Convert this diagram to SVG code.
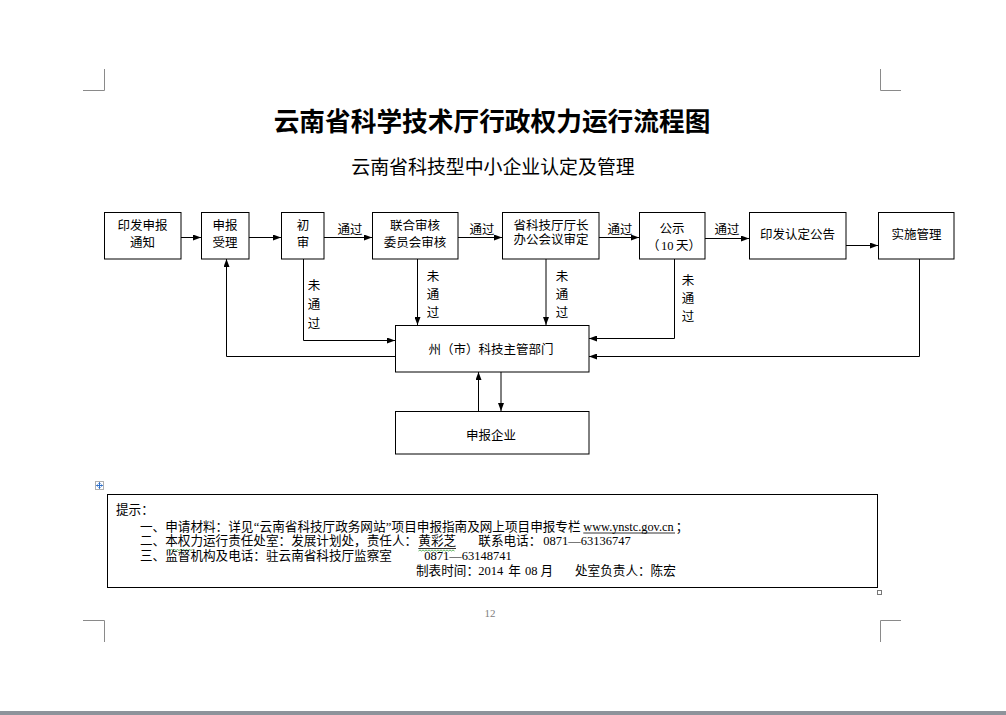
<svg xmlns="http://www.w3.org/2000/svg" width="1006" height="715" viewBox="0 0 1006 715">
<defs>
<style>
.cj{font-family:"Noto Sans CJK SC","Liberation Sans",sans-serif;fill:#000;}
.bx{fill:#fff;stroke:#000;stroke-width:1;}
.t{font-size:12.5px;text-anchor:middle;}
.n{font-size:12.6px;}
.sf{font-family:"Liberation Serif","Noto Sans CJK SC",serif;fill:#000;}
.cn{fill:none;stroke:#000;stroke-width:1;}
.crn{fill:none;stroke:#8a8a8a;stroke-width:1;}
</style>
<marker id="ah" viewBox="0 0 8 6" refX="8" refY="3" markerWidth="8" markerHeight="6" markerUnits="userSpaceOnUse" orient="auto">
<path d="M0,0 L8,3 L0,6 Z" fill="#000"/>
</marker>
</defs>
<rect x="0" y="0" width="1006" height="715" fill="#fff"/>
<rect x="0" y="711" width="1006" height="4" fill="#8e939b"/>
<g id="corners">
<path class="crn" d="M104.5,69 V90.5 H83"/>
<path class="crn" d="M880.5,69 V90.5 H901"/>
<path class="crn" d="M83,620.5 H104.5 V642"/>
<path class="crn" d="M901,620.5 H880.5 V642"/>
</g>
<g id="title">
<text class="cj" x="492" y="131" font-size="25.7" font-weight="bold" text-anchor="middle">云南省科学技术厅行政权力运行流程图</text>
<text class="cj" x="493" y="174" font-size="18.9" text-anchor="middle">云南省科技型中小企业认定及管理</text>
</g>
<g id="connectors">
<path class="cn" d="M181,237.5 H201" marker-end="url(#ah)"/>
<path class="cn" d="M249,237.5 H281" marker-end="url(#ah)"/>
<path class="cn" d="M324,237.5 H372" marker-end="url(#ah)"/>
<path class="cn" d="M458,237.5 H502" marker-end="url(#ah)"/>
<path class="cn" d="M599,237.5 H639" marker-end="url(#ah)"/>
<path class="cn" d="M705,238.5 H749" marker-end="url(#ah)"/>
<path class="cn" d="M846,245.5 H878" marker-end="url(#ah)"/>
<path class="cn" d="M303.5,259 V340.5 H395" marker-end="url(#ah)"/>
<path class="cn" d="M395,356.5 H226.5 V259" marker-end="url(#ah)"/>
<path class="cn" d="M417.5,259 V325" marker-end="url(#ah)"/>
<path class="cn" d="M546,259 V325" marker-end="url(#ah)"/>
<path class="cn" d="M674.5,259 V338.5 H589" marker-end="url(#ah)"/>
<path class="cn" d="M919.5,259 V356.5 H589" marker-end="url(#ah)"/>
<path class="cn" d="M478.5,411 V372" marker-end="url(#ah)"/>
<path class="cn" d="M501,372 V411" marker-end="url(#ah)"/>
<g class="cj t">
<text x="350" y="234">通过</text>
<text x="482" y="234">通过</text>
<text x="620" y="234">通过</text>
<text x="727" y="234">通过</text>
<text x="314" y="289.7">未</text><text x="314" y="309.3">通</text><text x="314" y="327.7">过</text>
<text x="433" y="280.7">未</text><text x="433" y="299">通</text><text x="433" y="317.4">过</text>
<text x="562" y="280.7">未</text><text x="562" y="298.8">通</text><text x="562" y="317.2">过</text>
<text x="688" y="284.7">未</text><text x="688" y="303">通</text><text x="688" y="321.4">过</text>
</g>
</g>
<g id="n1"><rect class="bx" x="104.5" y="212.5" width="76.5" height="46.5"/><text class="cj t" x="142.5" y="229.7">印发申报</text><text class="cj t" x="142.5" y="247.4">通知</text></g>
<g id="n2"><rect class="bx" x="201.5" y="212.5" width="47.5" height="46.5"/><text class="cj t" x="225" y="229.7">申报</text><text class="cj t" x="225" y="247.4">受理</text></g>
<g id="n3"><rect class="bx" x="281.5" y="212.5" width="42.5" height="46.5"/><text class="cj t" x="303" y="229.7">初</text><text class="cj t" x="303" y="247.4">审</text></g>
<g id="n4"><rect class="bx" x="372.5" y="212.5" width="85.5" height="46.5"/><text class="cj t" x="415" y="229.7">联合审核</text><text class="cj t" x="415" y="247.4">委员会审核</text></g>
<g id="n5"><rect class="bx" x="502.5" y="212.5" width="96.5" height="46.5"/><text class="cj t" x="551" y="229.7">省科技厅厅长</text><text class="cj t" x="551" y="243.9">办公会议审定</text></g>
<g id="n6"><rect class="bx" x="639.5" y="212.5" width="65.5" height="46.5"/><text class="cj t" x="672" y="232.7">公示</text>
<text class="cj" x="647" y="250.4" font-size="12.5">（</text>
<text class="sf" x="661" y="250.4" font-size="12.5">10</text>
<text class="cj" x="676" y="250.4" font-size="12.5">天）</text></g>
<g id="n7"><rect class="bx" x="749.5" y="212.5" width="96.5" height="46.5"/><text class="cj t" x="797.5" y="238.7">印发认定公告</text></g>
<g id="n8"><rect class="bx" x="878.5" y="212.5" width="75.5" height="46.5"/><text class="cj t" x="916.5" y="238.7">实施管理</text></g>
<g id="n9"><rect class="bx" x="395.5" y="325.5" width="193.5" height="46.5"/><text class="cj t" x="491" y="353.7">州（市）科技主管部门</text></g>
<g id="n10"><rect class="bx" x="395.5" y="411.5" width="193.5" height="42.5"/><text class="cj t" x="491" y="439.7">申报企业</text></g>
<g id="notes">
<rect x="95.5" y="481.5" width="8" height="8" fill="#fff" stroke="#b0b0b0" stroke-width="1"/>
<path d="M99.5,482.5 V488.5 M96.5,485.5 H102.5 M98.5,483.5 L99.5,482.5 L100.5,483.5 M98.5,487.5 L99.5,488.5 L100.5,487.5 M97.5,484.5 L96.5,485.5 L97.5,486.5 M101.5,484.5 L102.5,485.5 L101.5,486.5" fill="none" stroke="#2f6fc8" stroke-width="1"/>
<rect x="107.5" y="494.5" width="770" height="93" fill="none" stroke="#000" stroke-width="1"/>
<rect x="877.5" y="590.5" width="4" height="4" fill="#fff" stroke="#777" stroke-width="1"/>
<text class="cj n" x="116" y="514.4">提示：</text>
<text class="cj n" x="140" y="530.8">一、申请材料：详见</text>
<text class="sf" x="253.8" y="530.8" font-size="12.6">“</text>
<text class="cj n" x="259.6" y="530.8">云南省科技厅政务网站</text>
<text class="sf" x="385.8" y="530.8" font-size="12.6">”</text>
<text class="cj n" x="391.6" y="530.8">项目申报指南及网上项目申报专栏</text>
<text class="sf" x="583.3" y="530.8" font-size="12.3">www.ynstc.gov.cn</text>
<line x1="583.3" y1="533" x2="675" y2="533" stroke="#000" stroke-width="0.8"/>
<text class="cj n" x="675.8" y="530.8">；</text>
<text class="cj n" x="140" y="545.4">二、本权力运行责任处室：发展计划处，责任人：</text>
<text class="cj n" x="418.3" y="545.4">黄彩芝</text>
<line x1="418.3" y1="548.5" x2="456" y2="548.5" stroke="#000" stroke-width="0.8"/>
<path d="M167,550.5 l1.5,-1 l1.5,1 l1.5,-1 l1.5,1 l1.5,-1 l1.5,1 l1.5,-1 l1.5,1 l1.5,-1 l1.5,1 l1.5,-1 l1.5,1 l1.5,-1 l1.5,1 l1.5,-1 l1.5,1 l1.5,-1" fill="none" stroke="#3ca03c" stroke-width="0.8"/>
<path d="M418.5,551 l1.5,-1 l1.5,1 l1.5,-1 l1.5,1 l1.5,-1 l1.5,1 l1.5,-1 l1.5,1 l1.5,-1 l1.5,1 l1.5,-1 l1.5,1 l1.5,-1 l1.5,1 l1.5,-1 l1.5,1 l1.5,-1 l1.5,1 l1.5,-1 l1.5,1 l1.5,-1 l1.5,1 l1.5,-1 l1.5,1" fill="none" stroke="#3ca03c" stroke-width="0.8"/>
<text class="cj n" x="478.3" y="545.4">联系电话：</text>
<text class="sf" x="543.3" y="545.4" font-size="12.5">0871—63136747</text>
<text class="cj n" x="140" y="559.9">三、监督机构及电话：驻云南省科技厅监察室</text>
<text class="sf" x="424.3" y="559.9" font-size="12.5">0871—63148741</text>
<text class="cj n" x="416" y="575">制表时间：</text>
<text class="sf" x="478.3" y="575" font-size="12.5">2014</text>
<text class="cj n" x="508.3" y="575">年</text>
<text class="sf" x="525" y="575" font-size="12.5">08</text>
<text class="cj n" x="540.5" y="575">月</text>
<text class="cj n" x="575" y="575">处室负责人：陈宏</text>
</g>
<text x="490" y="617" font-family="Liberation Serif, serif" font-size="11" fill="#808080" text-anchor="middle">12</text>
</svg>
